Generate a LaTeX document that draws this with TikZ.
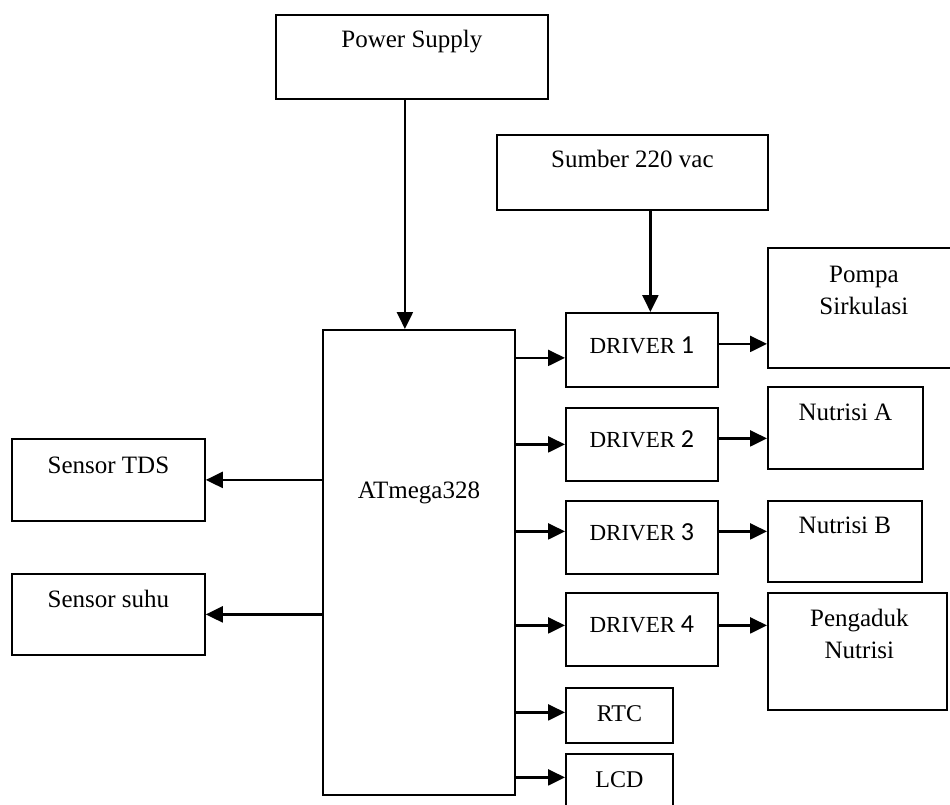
\documentclass[tikz,border=0pt]{standalone}
\usepackage{fontspec}
\setmainfont{Liberation Serif}
\newfontfamily\numfont{Carlito}
\usetikzlibrary{arrows.meta}
\tikzset{
  box/.style={rectangle, draw, line width=1.8pt, inner sep=0pt, anchor=north west},
  lbl/.style={inner sep=0pt, align=center, font=\fontsize{25}{32}\selectfont},
  drvbox/.style={box, minimum width=152pt, minimum height=73pt,
                 font=\fontsize{23}{28}\selectfont, text depth=10pt},
  smallbox/.style={box, minimum width=107pt, minimum height=55pt,
                   font=\fontsize{24}{28}\selectfont, text depth=4pt},
  arrow/.style={-{Triangle[length=17pt,width=16pt]}, line width=2.4pt}
}
\newcommand{\drvnum}[1]{DRIVER {\numfont\fontsize{26}{28}\selectfont #1}}

\begin{document}
\begin{tikzpicture}[x=1pt, y=-1pt]
  \useasboundingbox (0,0) rectangle (950,805);
  \clip (0,0) rectangle (950,805);

  % Supplies
  \node[box, minimum width=272pt, minimum height=84pt] (ps) at (275,14) {};
  \node[lbl, anchor=base] (ps-t) at ([yshift=-34pt]ps.north) {Power Supply};
  \node[box, minimum width=271pt, minimum height=75pt] (sumber) at (496,134) {};
  \node[lbl, anchor=base] (sumber-t) at ([yshift=-34pt]sumber.north) {Sumber 220 vac};

  % Controller
  \node[box, minimum width=192pt, minimum height=465pt] (atm) at (322,329) {};
  \node[lbl, anchor=base] (atm-t) at ([yshift=-169pt]atm.north) {ATmega328};

  % Sensors
  \node[box, minimum width=193pt, minimum height=82pt] (tds) at (11,438) {};
  \node[lbl, anchor=base] (tds-t) at ([yshift=-35pt]tds.north) {Sensor TDS};
  \node[box, minimum width=193pt, minimum height=81pt] (suhu) at (11,573) {};
  \node[lbl, anchor=base] (suhu-t) at ([yshift=-34pt]suhu.north) {Sensor suhu};

  % Drivers, RTC, LCD
  \node[drvbox, minimum height=74pt] (d1) at (565,312) {\drvnum{1}};
  \node[drvbox] (d2) at (565,407) {\drvnum{2}};
  \node[drvbox] (d3) at (565,500) {\drvnum{3}};
  \node[drvbox] (d4) at (565,592) {\drvnum{4}};
  \node[smallbox] (rtc) at (565,687) {RTC};
  \node[smallbox] (lcd) at (565,753) {LCD};

  % Loads
  \node[box, minimum width=200pt, minimum height=120pt] (pompa) at (767,247) {};
  \node[lbl, anchor=north] (pompa-t) at ([xshift=-4pt, yshift=-19pt]pompa.north) {Pompa\\Sirkulasi};
  \node[box, minimum width=155pt, minimum height=82pt] (nA) at (767,386) {};
  \node[lbl, anchor=base] (nA-t) at ([yshift=-34pt]nA.north) {Nutrisi A};
  \node[box, minimum width=154pt, minimum height=81pt] (nB) at (767,500) {};
  \node[lbl, anchor=base] (nB-t) at ([yshift=-33pt]nB.north) {Nutrisi B};
  \node[box, minimum width=179pt, minimum height=117pt] (peng) at (767,592) {};
  \node[lbl, anchor=north] (peng-t) at ([xshift=2pt, yshift=-17pt]peng.north) {Pengaduk\\Nutrisi};

  % Supply arrows
  \draw[arrow] ([xshift=-7pt]ps.south) -- ([xshift=-7pt]ps.south |- atm.north);
  \draw[arrow] ([xshift=18pt]sumber.south) -- ([xshift=18pt]sumber.south |- d1.north);

  % Controller -> sensors
  \draw[arrow] (atm.west |- tds) -- (tds.east);
  \draw[arrow] (atm.west |- suhu) -- (suhu.east);

  % Controller -> drivers
  \draw[arrow] ([yshift=-8pt]atm.east |- d1) -- ([yshift=-8pt]d1.west);
  \draw[arrow] (atm.east |- d2) -- (d2.west);
  \draw[arrow] ([yshift=6pt]atm.east |- d3) -- ([yshift=6pt]d3.west);
  \draw[arrow] ([yshift=4pt]atm.east |- d4) -- ([yshift=4pt]d4.west);
  \draw[arrow] ([yshift=3pt]atm.east |- rtc) -- ([yshift=3pt]rtc.west);
  \draw[arrow] ([yshift=4pt]atm.east |- lcd) -- ([yshift=4pt]lcd.west);

  % Drivers -> loads
  \draw[arrow] ([yshift=6pt]d1.east) -- ([yshift=6pt]d1.east -| pompa.west);
  \draw[arrow] ([yshift=6pt]d2.east) -- ([yshift=6pt]d2.east -| nA.west);
  \draw[arrow] ([yshift=6pt]d3.east) -- ([yshift=6pt]d3.east -| nB.west);
  \draw[arrow] ([yshift=4pt]d4.east) -- ([yshift=4pt]d4.east -| peng.west);
\end{tikzpicture}
\end{document}
